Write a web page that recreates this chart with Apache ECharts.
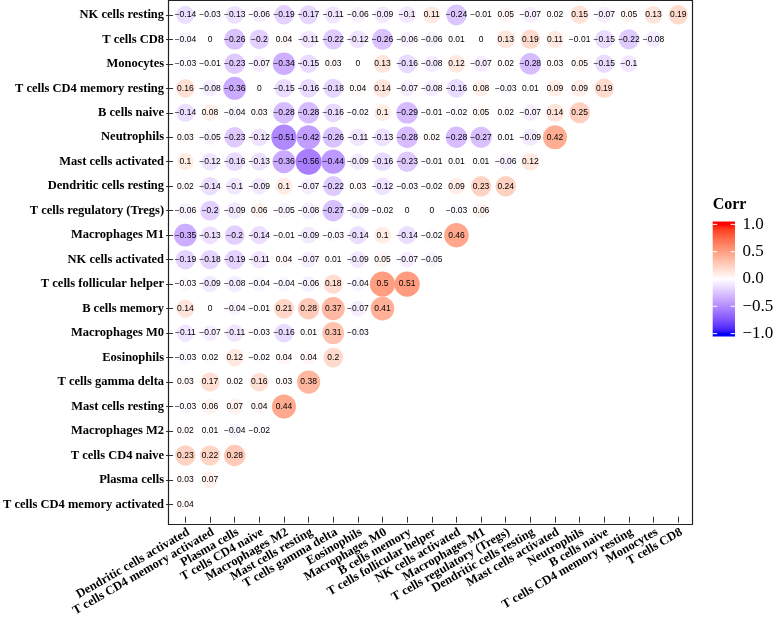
<!DOCTYPE html>
<html>
<head>
<meta charset="utf-8">
<script src="https://cdn.jsdelivr.net/npm/echarts@6/dist/echarts.min.js"></script>
<style>
html,body{margin:0;padding:0;background:#fff;}
#chart{width:780px;height:619px;}
</style>
</head>
<body>
<div id="chart"></div>
<script>
// ---------- DATA ----------
const xLabels = ['Dendritic cells activated','T cells CD4 memory activated','Plasma cells','T cells CD4 naive','Macrophages M2','Mast cells resting','T cells gamma delta','Eosinophils','Macrophages M0','B cells memory','T cells follicular helper','NK cells activated','Macrophages M1','T cells regulatory (Tregs)','Dendritic cells resting','Mast cells activated','Neutrophils','B cells naive','T cells CD4 memory resting','Monocytes','T cells CD8'];

// y categories, bottom to top
const yLabels = ['T cells CD4 memory activated','Plasma cells','T cells CD4 naive','Macrophages M2','Mast cells resting','T cells gamma delta','Eosinophils','Macrophages M0','B cells memory','T cells follicular helper','NK cells activated','Macrophages M1','T cells regulatory (Tregs)','Dendritic cells resting','Mast cells activated','Neutrophils','B cells naive','T cells CD4 memory resting','Monocytes','T cells CD8','NK cells resting'];

// correlation values per row (left to right across xLabels)
const rowNKcellsResting = [-0.14,-0.03,-0.13,-0.06,-0.19,-0.17,-0.11,-0.06,-0.09,-0.1,0.11,-0.24,-0.01,0.05,-0.07,0.02,0.15,-0.07,0.05,0.13,0.19];
const rowTcellsCD8 = [-0.04,0,-0.26,-0.2,0.04,-0.11,-0.22,-0.12,-0.26,-0.06,-0.06,0.01,0,0.13,0.19,0.11,-0.01,-0.15,-0.22,-0.08];
const rowMonocytes = [-0.03,-0.01,-0.23,-0.07,-0.34,-0.15,0.03,0,0.13,-0.16,-0.08,0.12,-0.07,0.02,-0.28,0.03,0.05,-0.15,-0.1];
const rowCD4MemResting = [0.16,-0.08,-0.36,0,-0.15,-0.16,-0.18,0.04,0.14,-0.07,-0.08,-0.16,0.08,-0.03,0.01,0.09,0.09,0.19];
const rowBcellsNaive = [-0.14,0.08,-0.04,0.03,-0.28,-0.28,-0.16,-0.02,0.1,-0.29,-0.01,-0.02,0.05,0.02,-0.07,0.14,0.25];
const rowNeutrophils = [0.03,-0.05,-0.23,-0.12,-0.51,-0.42,-0.26,-0.11,-0.13,-0.28,0.02,-0.28,-0.27,0.01,-0.09,0.42];
const rowMastActivated = [0.1,-0.12,-0.16,-0.13,-0.36,-0.56,-0.44,-0.09,-0.16,-0.23,-0.01,0.01,0.01,-0.06,0.12];
const rowDCResting = [0.02,-0.14,-0.1,-0.09,0.1,-0.07,-0.22,0.03,-0.12,-0.03,-0.02,0.09,0.23,0.24];
const rowTregs = [-0.06,-0.2,-0.09,0.06,-0.05,-0.08,-0.27,-0.09,-0.02,0,0,-0.03,0.06];
const rowMacM1 = [-0.35,-0.13,-0.2,-0.14,-0.01,-0.09,-0.03,-0.14,0.1,-0.14,-0.02,0.46];
const rowNKActivated = [-0.19,-0.18,-0.19,-0.11,0.04,-0.07,0.01,-0.09,0.05,-0.07,-0.05];
const rowTfh = [-0.03,-0.09,-0.08,-0.04,-0.04,-0.06,0.18,-0.04,0.5,0.51];
const rowBMemory = [0.14,0,-0.04,-0.01,0.21,0.28,0.37,-0.07,0.41];
const rowMacM0 = [-0.11,-0.07,-0.11,-0.03,-0.16,0.01,0.31,-0.03];
const rowEosinophils = [-0.03,0.02,0.12,-0.02,0.04,0.04,0.2];
const rowGammaDelta = [0.03,0.17,0.02,0.16,0.03,0.38];
const rowMastResting = [-0.03,0.06,0.07,0.04,0.44];
const rowMacM2 = [0.02,0.01,-0.04,-0.02];
const rowCD4Naive = [0.23,0.22,0.28];
const rowPlasma = [0.03,0.07];
const rowCD4MemActivated = [0.04];

// legend tick labels
const legendTicks = [1, 0.5, 0, -0.5, -1];

// rows in yLabels order (bottom to top)
const rows = [rowCD4MemActivated,rowPlasma,rowCD4Naive,rowMacM2,rowMastResting,rowGammaDelta,rowEosinophils,rowMacM0,rowBMemory,rowTfh,rowNKActivated,rowMacM1,rowTregs,rowDCResting,rowMastActivated,rowNeutrophils,rowBcellsNaive,rowCD4MemResting,rowMonocytes,rowTcellsCD8,rowNKcellsResting];

// ---------- COLOUR (Lab interpolation blue-white-red) ----------
function toLin(c){c/=255;return c<=0.04045?c/12.92:Math.pow((c+0.055)/1.055,2.4);}
function fromLin(c){const v=c<=0.0031308?12.92*c:1.055*Math.pow(c,1/2.4)-0.055;return Math.max(0,Math.min(255,Math.round(v*255)));}
const Xn=0.95047,Yn=1,Zn=1.08883;
function f(t){return t>0.008856?Math.cbrt(t):7.787*t+16/116;}
function fi(t){const t3=t*t*t;return t3>0.008856?t3:(t-16/116)/7.787;}
function rgb2lab(r,g,b){r=toLin(r);g=toLin(g);b=toLin(b);
 const X=(0.4124*r+0.3576*g+0.1805*b)/Xn,Y=(0.2126*r+0.7152*g+0.0722*b)/Yn,Z=(0.0193*r+0.1192*g+0.9505*b)/Zn;
 const fx=f(X),fy=f(Y),fz=f(Z);return [116*fy-16,500*(fx-fy),200*(fy-fz)];}
function lab2rgb(L,a,bb){const fy=(L+16)/116,fx=fy+a/500,fz=fy-bb/200;
 const X=fi(fx)*Xn,Y=fi(fy)*Yn,Z=fi(fz)*Zn;
 const r=3.2406*X-1.5372*Y-0.4986*Z,g=-0.9689*X+1.8758*Y+0.0415*Z,b=0.0557*X-0.2040*Y+1.0570*Z;
 return 'rgb('+fromLin(r)+','+fromLin(g)+','+fromLin(b)+')';}
const labBlue=rgb2lab(0,0,255),labWhite=rgb2lab(255,255,255),labRed=rgb2lab(255,0,0);
function colorAt(v){const t=Math.abs(v);const end=v<0?labBlue:labRed;
 return lab2rgb(labWhite[0]+(end[0]-labWhite[0])*t,labWhite[1]+(end[1]-labWhite[1])*t,labWhite[2]+(end[2]-labWhite[2])*t);}
const NSTOP=41;
const stops=[];for(let i=0;i<NSTOP;i++){stops.push(colorAt(-1+2*i/(NSTOP-1)));}

// ---------- BUILD ----------
const data=[];
rows.forEach((row,r)=>{row.forEach((v,c)=>{data.push([c,r,v]);});});
const maxAbs=Math.max(...data.map(d=>Math.abs(d[2])));
function fmt(v){return String(v).replace('-','\u2212');}

const gridLeft=170.5,gridTop=2.6,gridW=520,gridH=520;

// legend colorbar
const barX=712.7,barW=22.3,barTop=221.5,barH=115;
const pad=barH*0.025;
function barY(v){return barTop+pad+(1-(v+1)/2)*(barH-2*pad);}
const gradStops=[{offset:0,color:colorAt(1)}];
for(let i=0;i<NSTOP;i++){const v=1-2*i/(NSTOP-1);gradStops.push({offset:(barY(v)-barTop)/barH,color:colorAt(v)});}
gradStops.push({offset:1,color:colorAt(-1)});

const graphics=[
 {type:'rect',shape:{x:168.5,y:0.5,width:524,height:524},style:{fill:null,stroke:'#222',lineWidth:1.2},z:10,silent:true},
 {type:'text',x:barX,y:205,style:{text:'Corr',fontFamily:'Liberation Serif',fontWeight:'bold',fontSize:16,fill:'#000',textVerticalAlign:'middle',textAlign:'left'}},
 {type:'rect',shape:{x:barX,y:barTop,width:barW,height:barH},style:{fill:new echarts.graphic.LinearGradient(0,0,0,1,gradStops)}}
];
legendTicks.forEach(v=>{
 const y=barY(v);
 graphics.push({type:'line',shape:{x1:barX,y1:y,x2:barX+barW/5,y2:y},style:{stroke:'#fff',lineWidth:1}});
 graphics.push({type:'line',shape:{x1:barX+barW*4/5,y1:y,x2:barX+barW,y2:y},style:{stroke:'#fff',lineWidth:1}});
 graphics.push({type:'text',x:barX+barW+7.5,y:y,style:{text:fmt(v.toFixed(1)),fontFamily:'Liberation Serif',fontSize:17,fill:'#000',textVerticalAlign:'middle',textAlign:'left'}});
});

const chart=echarts.init(document.getElementById('chart'),null,{renderer:'canvas'});
chart.setOption({
 animation:false,
 backgroundColor:'#fff',
 grid:{left:gridLeft,top:gridTop,width:gridW,height:gridH,containLabel:false},
 xAxis:{type:'category',data:xLabels,
  axisLine:{show:false},
  axisTick:{show:true,alignWithLabel:true,length:6,lineStyle:{color:'#333',width:1}},
  axisLabel:{interval:0,rotate:30,margin:9,align:'right',verticalAlign:'top',fontFamily:'Liberation Serif',fontWeight:'bold',fontSize:12.5,color:'#000'},
  splitLine:{show:false}},
 yAxis:{type:'category',data:yLabels,
  axisLine:{show:false},
  axisTick:{show:true,alignWithLabel:true,length:7,lineStyle:{color:'#333',width:1}},
  axisLabel:{interval:0,margin:9,fontFamily:'Liberation Serif',fontWeight:'bold',fontSize:12.5,color:'#000'},
  splitLine:{show:false}},
 visualMap:{show:false,type:'continuous',min:-1,max:1,dimension:2,inRange:{color:stops}},
 series:[{type:'scatter',data:data,
  symbol:'circle',
  symbolSize:d=>2.6*(4+6*Math.sqrt(Math.abs(d[2])/maxAbs)),
  label:{show:true,position:'inside',formatter:p=>fmt(p.data[2]),fontFamily:'Liberation Sans',fontSize:8.5,color:'#000'},
  itemStyle:{opacity:1}
 }],
 graphic:graphics
});
</script>
</body>
</html>
